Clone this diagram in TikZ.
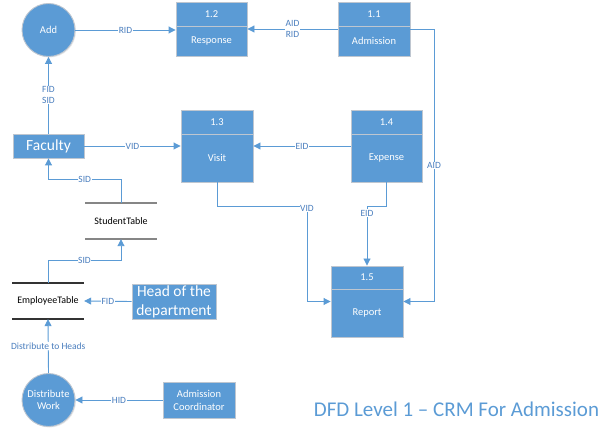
\documentclass[tikz,border=0pt]{standalone}
\usepackage{fontspec}
\setmainfont{Carlito}
\usetikzlibrary{arrows.meta,calc,shadows}
\definecolor{boxblue}{RGB}{91,155,213}
\definecolor{boxedge}{RGB}{190,198,208}
\definecolor{linkblue}{RGB}{91,155,213}
\definecolor{lbltext}{RGB}{74,126,190}
\tikzset{
  procbox/.style={rectangle,fill=boxblue,draw=boxedge,line width=0.9pt,inner sep=0pt,
    drop shadow={opacity=0.18,shadow xshift=1pt,shadow yshift=-1pt}},
  divline/.style={draw=boxedge,line width=0.9pt},
  boxtxt/.style={text=white,font=\fontsize{10.5}{13}\selectfont,inner sep=0pt},
  bigtxt/.style={text=white,font=\fontsize{15.5}{18.5}\selectfont,align=center,inner sep=0pt},
  circnode/.style={circle,fill=boxblue,draw=boxedge,line width=0.9pt,minimum size=53pt,inner sep=0pt,
    text=white,font=\fontsize{10.5}{13}\selectfont,align=center,
    drop shadow={opacity=0.18,shadow xshift=1pt,shadow yshift=-1pt}},
  flow/.style={draw=linkblue,line width=0.9pt,-{Triangle[width=7pt,length=7pt]}},
  lbl/.style={fill=white,text=lbltext,font=\fontsize{9.5}{12}\selectfont,inner sep=0.6pt,align=center},
  tbltxt/.style={text=black,font=\fontsize{10}{12}\selectfont,inner sep=0pt,minimum width=72pt,minimum height=36pt},
}
\begin{document}
\begin{tikzpicture}[x=1pt,y=-1pt]
\useasboundingbox (0,0) rectangle (613,435);

% ---- process boxes ----
% 1.2 Response
\node[procbox,minimum width=71pt,minimum height=54pt] (p12) at (211.5,29) {};
\draw[divline] (176,26) -- (247,26);
\node[boxtxt] (p12h) at (211.5,14) {1.2};
\node[boxtxt] (p12b) at (211.5,41) {Response};
% 1.1 Admission
\node[procbox,minimum width=72pt,minimum height=54pt] (p11) at (374,29) {};
\draw[divline] (338,26) -- (410,26);
\node[boxtxt] (p11h) at (374,14) {1.1};
\node[boxtxt] (p11b) at (374,41) {Admission};
% 1.3 Visit
\node[procbox,minimum width=72pt,minimum height=72pt] (p13) at (217,146) {};
\draw[divline] (181,134) -- (253,134);
\node[boxtxt] (p13h) at (217,122) {1.3};
\node[boxtxt] (p13b) at (217,158) {Visit};
% 1.4 Expense
\node[procbox,minimum width=71pt,minimum height=72pt] (p14) at (386.5,146) {};
\draw[divline] (351,134) -- (422,134);
\node[boxtxt] (p14h) at (386.5,122) {1.4};
\node[boxtxt] (p14b) at (386.5,158) {Expense};
% 1.5 Report
\node[procbox,minimum width=72pt,minimum height=71pt] (p15) at (367,301.5) {};
\draw[divline] (331,289) -- (403,289);
\node[boxtxt] (p15h) at (367,277.5) {1.5};
\node[boxtxt] (p15b) at (367,313) {Report};

% ---- entities ----
\node[circnode] (add) at (48.5,30) {Add};
\node[circnode] (dw) at (48.5,400) {Distribute\\[-1pt]Work};
\node[procbox,minimum width=71pt,minimum height=24pt] (fac) at (48.5,146) {};
\node[bigtxt] (factxt) at (48.5,146) {Faculty};
\node[procbox,minimum width=84pt,minimum height=35pt] (head) at (174,301.5) {};
\node[bigtxt] (headtxt) at (174,302) {Head of the\\department};
\node[procbox,minimum width=72pt,minimum height=36pt] (ac) at (199,400) {};
\node[boxtxt,align=center] (actxt) at (199,400.5) {Admission\\Coordinator};

% ---- data stores ----
\node[tbltxt] (st) at (121,221) {StudentTable};
\draw[draw=gray!95,line width=1.6pt] (85,203) -- (157,203) (85,239) -- (157,239);
\node[tbltxt] (et) at (48,301) {EmployeeTable};
\draw[draw=black!80,line width=1.1pt] (12,283) -- (84,283) (12,319) -- (84,319);

% ---- flows ----
\draw[flow] (add) -- (add -| p12.west) node[lbl,midway] (lrid) {RID};
\draw[flow] (p11.west) -- (p12.east) node[lbl,midway] (laidrid) {AID\\[-1pt]RID};
\coordinate (a1) at (434,29);
\draw[flow] (p11.east) -- (a1) |- (p15.east) node[lbl,pos=0.25] (laid) {AID};
\draw[flow] (fac.east) -- (p13.west) node[lbl,midway] (lvid) {VID};
\draw[flow] (p14.west) -- (p13.east) node[lbl,midway] (leid) {EID};
\draw[flow] (fac.north) -- (add.south) node[lbl,midway] (lfs) {FID\\[-1pt]SID};
\coordinate (s1) at (121,179);
\draw[flow] (st.north) -- (s1) -| (fac.south) node[lbl,pos=0.25] (lsid1) {SID};
\coordinate (s2) at (48,260);
\draw[flow] (et.north) -- (s2) -| (st.south) node[lbl,pos=0.25] (lsid2) {SID};
\draw[flow] (head.west) -- (et.east) node[lbl,midway] (lfid) {FID};
\draw[flow] (dw.north) -- (et.south) node[lbl,midway] (ldist) {Distribute to Heads};
\draw[flow] (ac.west) -- (dw.east) node[lbl,midway] (lhid) {HID};
\coordinate (v1) at (307,206);
\draw[flow] (p13.south) |- (v1) -- (v1 |- p15.west) -- (p15.west);
\node[lbl] (lvid2) at (307,208) {VID};
\coordinate (e1) at (367,206);
\draw[flow] (p14.south) |- (e1) -- (p15.north) node[lbl,pos=0.12] (leid2) {EID};

% ---- title ----
\node[text=boxblue,font=\fontsize{21}{24}\selectfont,inner sep=0pt] (title) at (456.5,409) {DFD Level 1 – CRM For Admission};
\end{tikzpicture}
\end{document}
